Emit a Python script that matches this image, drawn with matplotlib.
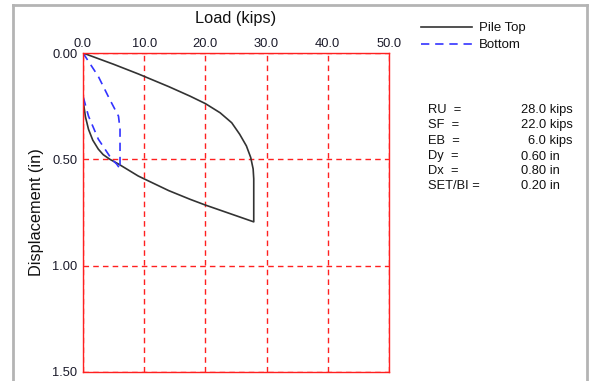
import matplotlib
matplotlib.use("Agg")
import matplotlib.pyplot as plt
from matplotlib.lines import Line2D

plt.rcParams['font.family'] = ['Liberation Sans', 'DejaVu Sans']

# Pile top curve (load in kips, displacement in inches)
top_load = [0, 5, 9.0, 14, 17.5, 20, 22.4, 24.3, 25.6, 26.7, 27.4, 27.8, 27.9, 27.9,
            20, 17.5, 14, 10, 9.0, 5.8, 4.4, 3.3, 2.5, 1.6, 0.9, 0.4, 0.1, 0]
top_disp = [0, 0.053, 0.098, 0.158, 0.203, 0.238, 0.281, 0.328, 0.382, 0.437, 0.491, 0.545, 0.592, 0.794,
            0.715, 0.688, 0.647, 0.592, 0.578, 0.522, 0.50, 0.478, 0.452, 0.41, 0.359, 0.30, 0.24, 0.20]

# Pile bottom curve
bot_load = [0, 2.5, 4.4, 5.8, 6.05, 6.05, 5.5, 4.7, 2.5, 0.9, 0]
bot_disp = [0, 0.11, 0.22, 0.297, 0.359, 0.545, 0.522, 0.50, 0.405, 0.297, 0.203]

x_ticks = [0, 10, 20, 30, 40, 50]
x_labels = ["0.0", "10.0", "20.0", "30.0", "40.0", "50.0"]
y_ticks = [0, 0.5, 1.0, 1.5]
y_labels = ["0.00", "0.50", "1.00", "1.50"]

info_names = ["RU  =", "SF  =", "EB  =", "Dy  =", "Dx  =", "SET/BI ="]
info_values = ["28.0 kips", "22.0 kips", "6.0 kips", "0.60 in", "0.80 in", "0.20 in"]

W, H = 589, 381
fig = plt.figure(figsize=(W / 100, H / 100), dpi=100)
ax = fig.add_axes([83 / W, 1 - 372 / H, 306 / W, 319 / H])

ax.plot(top_load, top_disp, color='#333333', lw=1.2, label='Pile Top')
ax.plot(bot_load, bot_disp, color='#3333ff', lw=1.2, ls=(0, (5, 3.5)), label='Bottom')

ax.set_xlim(0, 50)
ax.set_ylim(1.5, 0)
ax.set_xticks(x_ticks)
ax.set_xticklabels(x_labels)
ax.set_yticks(y_ticks)
ax.set_yticklabels(y_labels)
ax.xaxis.tick_top()
ax.xaxis.set_label_position('top')
ax.tick_params(length=0, labelsize=9.3, colors='#1a1a2a')
ax.tick_params(axis='y', pad=4)
ax.tick_params(axis='x', pad=2)
ax.set_xlabel('Load (kips)', fontsize=11.8, color='#111111', labelpad=11)
ax.set_ylabel('Displacement (in)', fontsize=11.8, color='#111111')
ax.yaxis.set_label_coords(-0.128, 0.5)
for s in ax.spines.values():
    s.set_color('#ff2020')
    s.set_linewidth(1.0)
ax.grid(True, color='#ff2020', ls=(0, (4, 3)), lw=1.0)
ax.set_axisbelow(True)

# gray frame
fig.add_artist(Line2D([13 / W, 13 / W], [0, 1 - 4.5 / H], transform=fig.transFigure, color='#b4b4b4', lw=2))
fig.add_artist(Line2D([13 / W, 587 / W], [1 - 4.5 / H, 1 - 4.5 / H], transform=fig.transFigure, color='#b4b4b4', lw=2))
fig.add_artist(Line2D([587 / W, 587 / W], [0, 1 - 4.5 / H], transform=fig.transFigure, color='#b4b4b4', lw=2))

leg = ax.legend(loc='upper left', bbox_to_anchor=(421 / W, 1 - 22 / H), bbox_transform=fig.transFigure,
                frameon=False, fontsize=9.5, handlelength=3.85, handletextpad=0.55, labelspacing=0.38,
                borderpad=0, borderaxespad=0)
for t in leg.get_texts():
    t.set_color('#111111')

ys = [110, 125.5, 141, 156.5, 171.5, 186.5]
for name, val, y in zip(info_names, info_values, ys):
    fig.text(428 / W, 1 - y / H, name, fontsize=9.3, va='center', ha='left', color='#111111')
    if 'kips' in val:
        fig.text(573 / W, 1 - y / H, val, fontsize=9.3, va='center', ha='right', color='#111111')
    else:
        fig.text(521 / W, 1 - y / H, val, fontsize=9.3, va='center', ha='left', color='#111111')

fig.savefig('out.png', dpi=100)
